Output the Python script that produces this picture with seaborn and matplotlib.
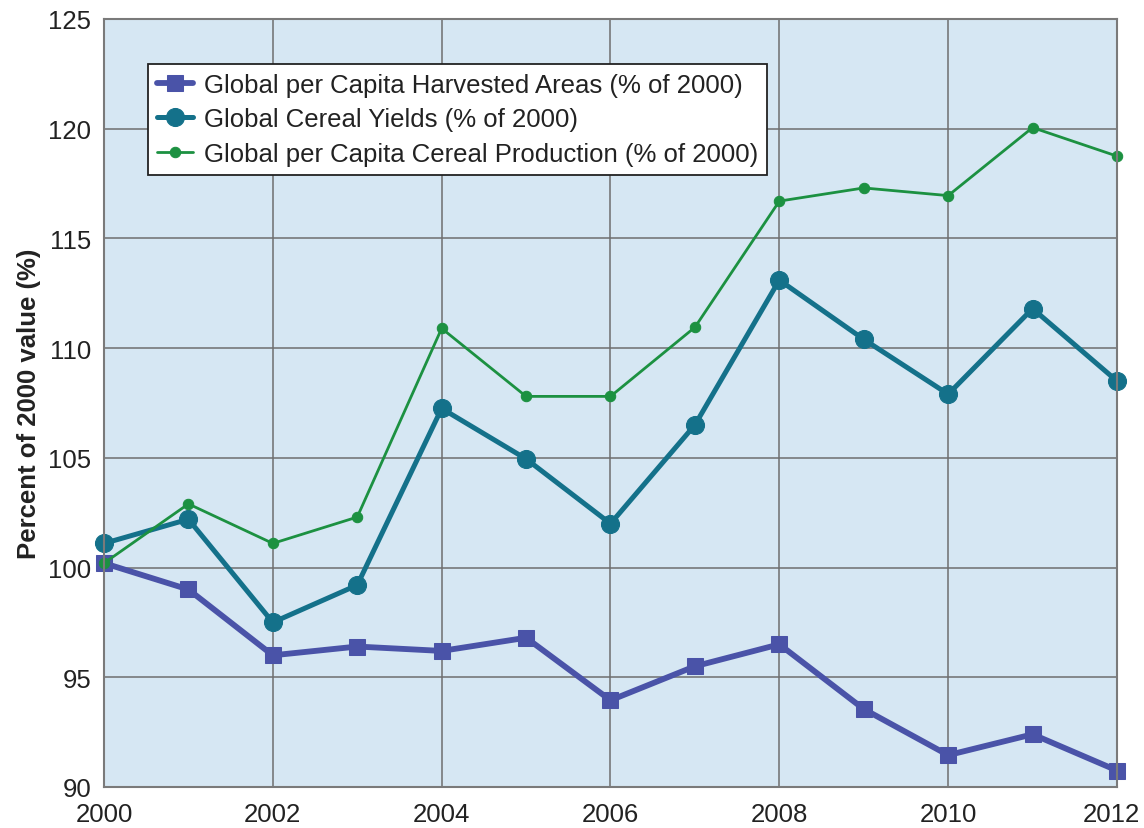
import numpy as np
import pandas as pd
import seaborn as sns
import matplotlib.pyplot as plt
import matplotlib.transforms as mtransforms

years = list(range(2000, 2013))
harvested = [100.2, 99.0, 96.0, 96.4, 96.2, 96.8, 93.95, 95.5, 96.5, 93.55, 91.45, 92.4, 90.75]
yields = [101.1, 102.2, 97.5, 99.2, 107.25, 104.95, 102.0, 106.5, 113.1, 110.4, 107.9, 111.8, 108.5]
production = [100.2, 102.9, 101.1, 102.3, 110.9, 107.8, 107.8, 110.95, 116.7, 117.3, 116.95, 120.05, 118.75]

labels = [
    "Global per Capita Harvested Areas (% of 2000)",
    "Global Cereal Yields (% of 2000)",
    "Global per Capita Cereal Production (% of 2000)",
]
x_ticks = [2000, 2002, 2004, 2006, 2008, 2010, 2012]
y_ticks = [90, 95, 100, 105, 110, 115, 120, 125]

sns.set_style("white")
plt.rcParams["font.family"] = ["Liberation Sans", "DejaVu Sans"]

fig = plt.figure(figsize=(11.44, 8.29), dpi=100)
ax = fig.add_axes([0.0909, 0.0495, 0.8855, 0.9264])
ax.set_facecolor("#d6e7f3")

# serie 1 : surfaces recoltees
sns.lineplot(x=years, y=harvested, ax=ax, color="#4a53a8", linewidth=4.2,
             marker="s", markersize=12, markeredgecolor="#4a53a8", label=labels[0])
# serie 2 : rendements
sns.lineplot(x=years, y=yields, ax=ax, color="#14718a", linewidth=3.6,
             marker="o", markersize=13, markeredgecolor="#14718a", label=labels[1])
# serie 3 : production
sns.lineplot(x=years, y=production, ax=ax, color="#1c9141", linewidth=2.0,
             marker="o", markersize=7.5, markeredgecolor="#1c9141", label=labels[2])

ax.set_xlim(2000, 2012)
ax.set_ylim(90, 125)
ax.set_xticks(x_ticks)
ax.set_yticks(y_ticks)
ax.grid(True, color="#6e6e6e", linewidth=1.1)
ax.set_axisbelow(True)
for line in ax.lines:
    line.set_clip_on(False)
for spine in ax.spines.values():
    spine.set_color("#7a7a7a")
    spine.set_linewidth(1.5)

ax.tick_params(axis="both", length=0, labelsize=18.5, colors="#222222")
ax.tick_params(axis="x", pad=11)
ax.tick_params(axis="y", pad=9)
ax.set_xlabel("")
ax.set_ylabel("Percent of 2000 value (%)", fontsize=18.5, fontweight="bold",
              labelpad=5, color="#222222")

# le dernier label (2012) est decale un peu a gauche pour rester dans l'image
last = ax.get_xticklabels()[-1]
last.set_transform(last.get_transform() + mtransforms.ScaledTranslation(-6 / 100, 0, fig.dpi_scale_trans))

leg = ax.legend(loc="upper left", bbox_to_anchor=(0.043, 0.942), fontsize=18.5,
                frameon=True, fancybox=False, framealpha=1, edgecolor="#222222",
                handlelength=1.4, handletextpad=0.45, labelspacing=0.42,
                borderpad=0.35, borderaxespad=0)
leg.get_frame().set_linewidth(1.3)
for t in leg.get_texts():
    t.set_color("#222222")

fig.savefig("out.png", dpi=100)
